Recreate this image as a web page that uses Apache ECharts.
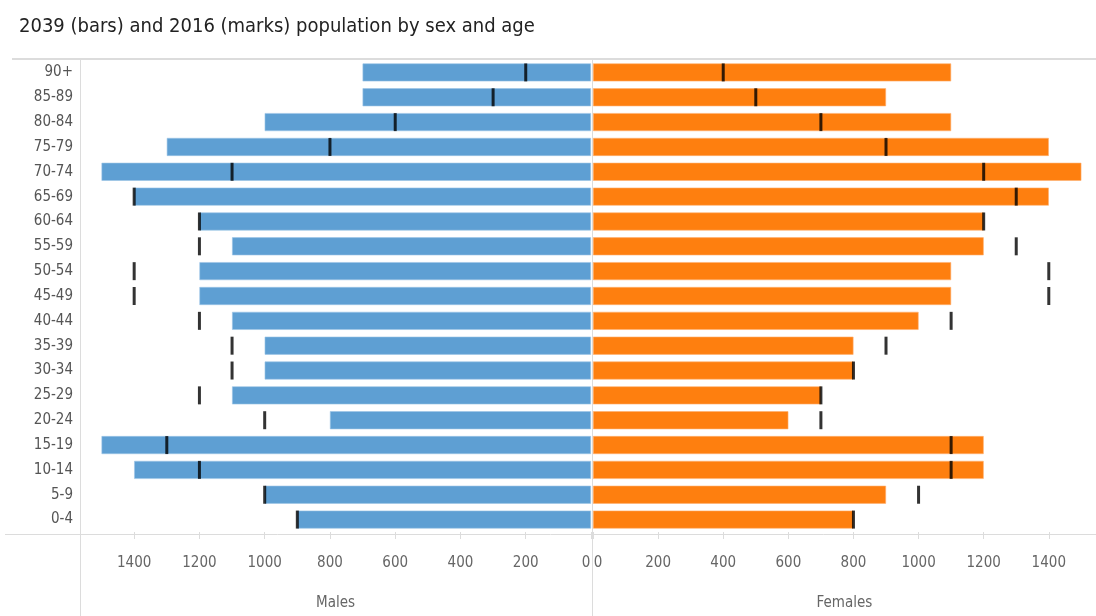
<!DOCTYPE html>
<html>
<head>
<meta charset="utf-8">
<script src="https://cdn.jsdelivr.net/npm/echarts@6/dist/echarts.min.js"></script>
<style>
    html, body { margin: 0; padding: 0; background: #fff; }
    #chart { width: 1096px; height: 616px; }
</style>
</head>
<body>
<div id="chart"></div>
<script>
// age groups, bottom to top
const ages        = ['0-4', '5-9', '10-14', '15-19', '20-24', '25-29', '30-34', '35-39', '40-44', '45-49',
                     '50-54', '55-59', '60-64', '65-69', '70-74', '75-79', '80-84', '85-89', '90+'];
const males2039   = [900, 1000, 1400, 1500, 800, 1100, 1000, 1000, 1100, 1200,
                     1200, 1100, 1200, 1400, 1500, 1300, 1000, 700, 700];
const males2016   = [900, 1000, 1200, 1300, 1000, 1200, 1100, 1100, 1200, 1400,
                     1400, 1200, 1200, 1400, 1100, 800, 600, 300, 200];
const females2039 = [800, 900, 1200, 1200, 600, 700, 800, 800, 1000, 1100,
                     1100, 1200, 1200, 1400, 1500, 1400, 1100, 900, 1100];
const females2016 = [800, 1000, 1100, 1100, 700, 700, 800, 900, 1100, 1400,
                     1400, 1300, 1200, 1300, 1200, 900, 700, 500, 400];
const xTicks      = [0, 200, 400, 600, 800, 1000, 1200, 1400];

const FONT   = '"DejaVu Sans Condensed", "DejaVu Sans", sans-serif';
const BLUE   = '#5e9fd3';
const ORANGE = '#fe7f0f';
const LINE   = '#dcdcdc';

const chart = echarts.init(document.getElementById('chart'));

const xAxisCommon = (grid, max, name, zeroPad) => ({
    type: 'value',
    gridIndex: grid,
    min: 0,
    max: max,
    inverse: grid === 0,
    name: name,
    nameLocation: 'middle',
    nameGap: 64,
    nameTextStyle: { color: '#666', fontSize: 15, fontFamily: FONT },
    axisLine: { show: false },
    splitLine: { show: false },
    axisTick: { show: true, customValues: xTicks, length: 7, lineStyle: { color: LINE } },
    axisLabel: {
        customValues: xTicks,
        margin: 24,
        color: '#666',
        fontSize: 15,
        fontFamily: FONT,
        formatter: v => v === 0 ? '{z|0}' : String(v),
        rich: { z: { color: '#666', fontSize: 15, fontFamily: FONT, padding: zeroPad } }
    }
});

const hline = (x1, x2, y, w) => ({
    type: 'line', silent: true, z: 0,
    shape: { x1: x1, y1: y, x2: x2, y2: y },
    style: { stroke: LINE, lineWidth: w }
});
const vline = (x, y1, y2) => ({
    type: 'line', silent: true, z: 0,
    shape: { x1: x, y1: y1, x2: x, y2: y2 },
    style: { stroke: LINE, lineWidth: 1 }
});

const marks = (data, x, y) => ({
    type: 'scatter',
    xAxisIndex: x,
    yAxisIndex: y,
    data: data,
    symbol: 'rect',
    symbolSize: [3, 18],
    itemStyle: { color: '#000' },
    z: 5,
    silent: true
});

const option = {
    animation: false,
    title: {
        text: '2039 (bars) and 2016 (marks) population by sex and age',
        left: 14,
        top: 12,
        textStyle: { color: '#222', fontSize: 20, fontWeight: 'normal', fontFamily: FONT }
    },
    grid: [
        { left: 80, top: 60, width: 511, height: 474 },
        { left: 593, top: 60, width: 503, height: 474 }
    ],
    xAxis: [
        xAxisCommon(0, 1566, 'Males', [0, 10, 0, 0]),
        xAxisCommon(1, 1545, 'Females', [0, 0, 0, 10])
    ],
    yAxis: [
        {
            type: 'category', gridIndex: 0, data: ages,
            axisLine: { show: false }, axisTick: { show: false },
            axisLabel: { color: '#555', fontSize: 15, fontFamily: FONT, margin: 7 }
        },
        {
            type: 'category', gridIndex: 1, data: ages,
            axisLine: { show: false }, axisTick: { show: false }, axisLabel: { show: false }
        }
    ],
    graphic: [
        hline(12, 1096, 59, 2),
        hline(5, 1096, 534.5, 1),
        vline(80.5, 60, 616),
        vline(592.5, 60, 616)
    ],
    series: [
        {
            type: 'bar', xAxisIndex: 0, yAxisIndex: 0, data: males2039, barWidth: 18,
            itemStyle: { color: BLUE, borderColor: '#9cc4e6', borderWidth: 0.6 }
        },
        {
            type: 'bar', xAxisIndex: 1, yAxisIndex: 1, data: females2039, barWidth: 18,
            itemStyle: { color: ORANGE, borderColor: '#ffb070', borderWidth: 0.6 }
        },
        marks(males2016, 0, 0),
        marks(females2016, 1, 1)
    ]
};

chart.setOption(option);
</script>
</body>
</html>
